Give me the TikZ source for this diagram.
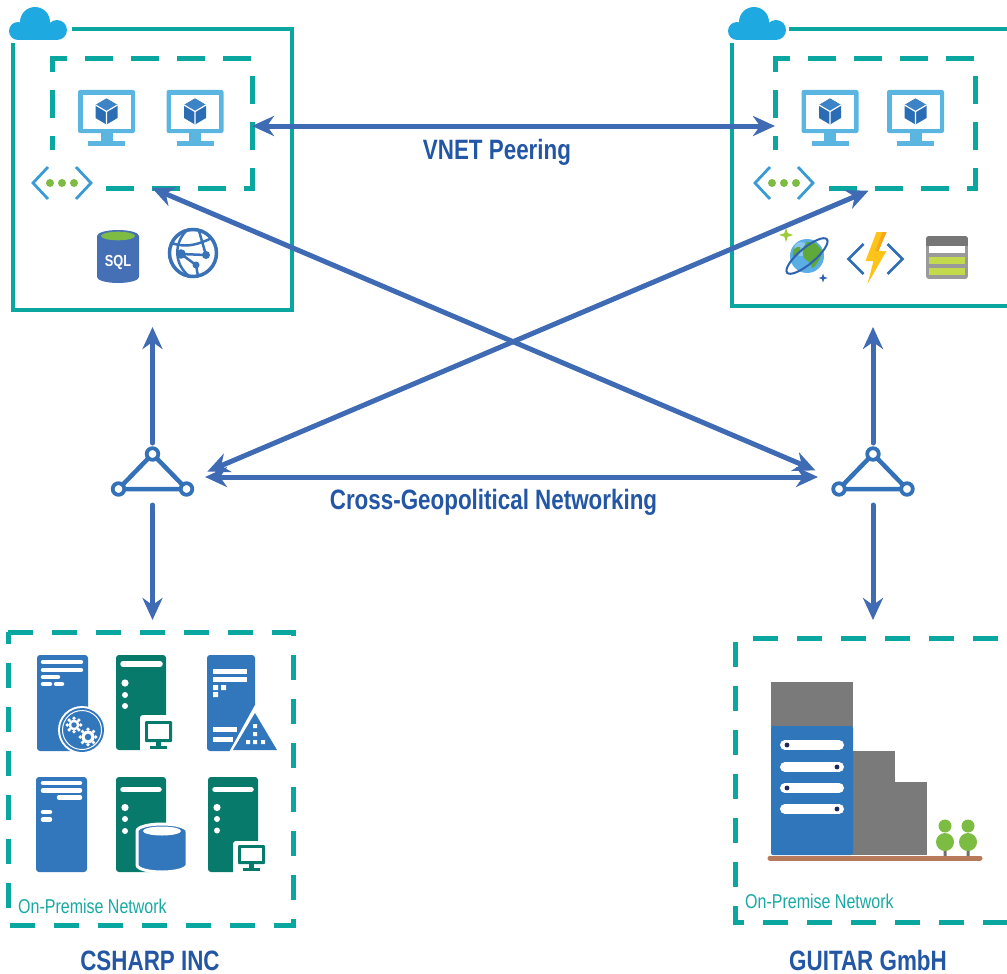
\documentclass[tikz,border=0pt]{standalone}
\usepackage{fontspec}
\setmainfont{Liberation Sans}
\newfontfamily\condfont[FakeStretch=0.8]{Liberation Sans}
\usetikzlibrary{arrows.meta}

\definecolor{boxteal}{HTML}{0AA6A0}
\definecolor{lantext}{HTML}{18A9A2}
\definecolor{linkblue}{HTML}{3F6AB4}
\definecolor{labelblue}{HTML}{2356A5}
\definecolor{hubblue}{HTML}{3371B8}
\definecolor{cloudblue}{HTML}{1FA9E1}
\definecolor{vmframe}{HTML}{5AB6E1}
\definecolor{cubedark}{HTML}{2A6DB5}
\definecolor{cubelight}{HTML}{3C84C6}
\definecolor{netblue}{HTML}{3A9BD5}
\definecolor{netgreen}{HTML}{7DBB42}
\definecolor{sqlblue}{HTML}{4670B6}
\definecolor{sqlgreen}{HTML}{7DBB42}
\definecolor{webblue}{HTML}{3A72B8}
\definecolor{globeblue}{HTML}{5AAEE4}
\definecolor{globegreen}{HTML}{5FA83A}
\definecolor{orbitblue}{HTML}{2D62B0}
\definecolor{sparkgreen}{HTML}{9CCB3B}
\definecolor{boltyellow}{HTML}{FCC419}
\definecolor{boltorange}{HTML}{F4A81C}
\definecolor{funcblue}{HTML}{2F6EB5}
\definecolor{tablegray}{HTML}{9A9A9A}
\definecolor{tabledark}{HTML}{767676}
\definecolor{tablegreen}{HTML}{C3DA4C}
\definecolor{srvblue}{HTML}{3276BC}
\definecolor{srvgreen}{HTML}{077A6B}
\definecolor{bldgray}{HTML}{7A7A7A}
\definecolor{bldblue}{HTML}{2F76BA}
\definecolor{slotdot}{HTML}{1F2A5C}
\definecolor{ground}{HTML}{B77B5B}
\definecolor{leaf}{HTML}{7DBC42}
\definecolor{trunk}{HTML}{707070}

\tikzset{
  cloudicon/.pic={
    \fill[cloudblue] (-20,3) circle (9) (-3,-6) circle (15) (19,2) circle (10);
    \fill[cloudblue] (-20,0) rectangle (19,12);
  },
  vmicon/.pic={
    \fill[vmframe, rounded corners=2pt] (-28.5,-21.5) rectangle (28.5,21.5);
    \fill[white] (-24,-17) rectangle (24,17);
    \fill[vmframe] (-6,21) rectangle (6,30);
    \fill[vmframe] (-18.5,29.5) rectangle (18.5,34);
    \fill[cubedark] (0,-13) -- (11,-6.5) -- (11,6.5) -- (0,13) -- (-11,6.5) -- (-11,-6.5) -- cycle;
    \fill[cubelight] (0,-13) -- (11,-6.5) -- (0,0) -- (-11,-6.5) -- cycle;
    \draw[white, line width=1.2pt] (-11,-6.5) -- (0,0) -- (11,-6.5) (0,0) -- (0,13);
  },
  neticon/.pic={
    \draw[netblue, line width=2.8pt] (-14,-16) -- (-29,0) -- (-14,16);
    \draw[netblue, line width=2.8pt] (14,-16) -- (29,0) -- (14,16);
    \fill[netgreen] (-12,0) circle (4) (0,0) circle (4) (12,0) circle (4);
  },
  sqlicon/.pic={
    \fill[sqlblue] (-21,-21) -- (-21,20) arc[start angle=180, end angle=0, x radius=21, y radius=6] -- (21,-21) -- cycle;
    \fill[sqlblue] (0,-21) ellipse [x radius=21, y radius=6];
    \fill[sqlgreen] (0,-21) ellipse [x radius=17, y radius=4.3];
    \node[text=white, font=\condfont\bfseries\fontsize{16}{16}\selectfont, inner sep=0pt] (sqlText) at (0,5) {SQL};
  },
  webicon/.pic={
    \draw[webblue, line width=3.5pt] (0,0) circle (23.5);
    \draw[webblue, line width=2.5pt] (-7,-22) .. controls (-20,-8) and (-18,12) .. (-4,23);
    \draw[webblue, line width=2.5pt] (-21,-10) .. controls (-6,-4) and (8,-10) .. (19,-15);
    \draw[webblue, line width=2.5pt] (3,12) -- (-12,1) -- (13,2) .. controls (10,-10) .. (6,-22);
    \draw[webblue, line width=2.5pt] (3,12) -- (5,23);
    \fill[webblue] (-12,1) circle (4.8) (13,2) circle (4) (3,12) circle (3.5);
  },
  sparkle/.pic={
    \fill (0,-#1) -- (0.25*#1,-0.25*#1) -- (#1,0) -- (0.25*#1,0.25*#1) -- (0,#1)
          -- (-0.25*#1,0.25*#1) -- (-#1,0) -- (-0.25*#1,-0.25*#1) -- cycle;
  },
  cosmosicon/.pic={
    \fill[globeblue] (0,0) circle (17);
    \fill[white, opacity=0.3] (-6,-7) circle (7);
    \fill[globegreen] plot[smooth cycle] coordinates {(0,-14) (9,-12) (15,-4) (12,4) (6,12) (2,6) (-3,2) (-4,-6)};
    \fill[globegreen] plot[smooth cycle] coordinates {(-13,-7) (-7,-9) (-8,-2) (-14,0)};
    \draw[orbitblue, line width=2pt, rotate=40] (0,0) ellipse [x radius=26, y radius=8];
    \pic[sparkgreen] at (-21,-21) {sparkle=7};
    \pic[orbitblue] at (16,22) {sparkle=4.5};
  },
  funcicon/.pic={
    \draw[funcblue, line width=2.8pt] (-12,-15) -- (-27,0) -- (-12,15);
    \draw[funcblue, line width=2.8pt] (12,-15) -- (27,0) -- (12,15);
    \fill[boltyellow] (1,-27) -- (11,-27) -- (3,-8) -- (11,-8) -- (-8,25) -- (-2,2) -- (-10,2) -- cycle;
    \fill[boltorange] (7,-27) -- (11,-27) -- (3,-8) -- (0,-8) -- cycle;
  },
  tableicon/.pic={
    \begin{scope}
      \clip[rounded corners=3pt] (-21,-21.5) rectangle (21,21.5);
      \fill[tablegray] (-21,-21.5) rectangle (21,21.5);
      \fill[tabledark] (-21,-21.5) rectangle (21,-12);
    \end{scope}
    \fill[white] (-18,-11.5) rectangle (18,-4.5);
    \fill[tablegreen] (-18,-0.5) rectangle (18,6.5);
    \fill[tablegreen] (-18,10.5) rectangle (18,17.5);
  },
  hubicon/.pic={
    \draw[hubblue, line width=4.5pt] (0,-23) -- (-34,12) -- (34,12) -- cycle;
    \filldraw[hubblue, fill=white, line width=3.8pt] (0,-23) circle (5.8) (-34,12) circle (5.8) (34,12) circle (5.8);
  },
  gear/.pic={
    \fill[white] (0,0) circle (#1);
    \foreach \a in {0,45,...,315} \fill[white] (\a:#1+1.3) circle (1.9);
    \fill[srvblue] (0,0) circle (0.5*#1);
  },
}

\begin{document}
\begin{tikzpicture}[x=1pt, y=-1pt,
  solidbox/.style={draw=boxteal, line width=4pt},
  vnetbox/.style={draw=boxteal, line width=5pt, dash pattern=on 28pt off 18pt},
  lanbox/.style={draw=boxteal, line width=5pt, dash pattern=on 25pt off 19pt},
  link/.style={draw=linkblue, line width=5pt, >={Stealth[length=22pt,width=20pt,inset=7pt]}},
  frame/.style={inner sep=0pt, outer sep=0pt, draw=none},
  title/.style={text=labelblue, font=\condfont\bfseries\fontsize{28}{30}\selectfont, inner sep=0pt, anchor=base},
  lanlabel/.style={text=lantext, font=\condfont\fontsize{20}{22}\selectfont, inner sep=0pt, anchor=base west},
]
\useasboundingbox (0,0) rectangle (1007,974);

% ---------- cloud region A ----------
\node[frame, minimum width=279pt, minimum height=281pt] (azA) at (152.5,169.5) {};
\node[frame, minimum width=200pt, minimum height=129pt] (vnetA) at (152,123.5) {};
\draw[solidbox] ([xshift=59pt]azA.north west) -- (azA.north east) -- (azA.south east) -- (azA.south west) -- ([yshift=-14pt]azA.north west);
\draw[vnetbox] ([xshift=54pt]vnetA.south west) -- (vnetA.south east) -- (vnetA.north east) -- (vnetA.north west) -- ([yshift=-91pt]vnetA.north west);
\pic at (38,28) {cloudicon};
\pic at (106.5,111.5) {vmicon};
\pic at (195,111.5) {vmicon};
\pic at (62,183) {neticon};
\pic at (118,257) {sqlicon};
\pic at (193,253) {webicon};

% ---------- cloud region B ----------
\node[frame, minimum width=290pt, minimum height=277pt] (azB) at (877,167.5) {};
\node[frame, minimum width=200pt, minimum height=129pt] (vnetB) at (875,123.5) {};
\draw[solidbox] ([xshift=57pt]azB.north west) -- (azB.north east);
\draw[solidbox] ([yshift=-14pt]azB.north west) -- (azB.south west) -- (azB.south east);
\draw[vnetbox] ([xshift=54pt]vnetB.south west) -- (vnetB.south east) -- (vnetB.north east) -- (vnetB.north west) -- ([yshift=-91pt]vnetB.north west);
\pic at (757,28) {cloudicon};
\pic at (830,111.5) {vmicon};
\pic at (915.5,111.5) {vmicon};
\pic at (784,183) {neticon};
\pic at (807,256) {cosmosicon};
\pic at (875.5,259) {funcicon};
\pic at (947,257.5) {tableicon};

% ---------- gateways ----------
\node[frame, minimum width=84pt, minimum height=56pt] (hubA) at (152.5,477) {};
\node[frame, minimum width=84pt, minimum height=56pt] (hubB) at (873,477) {};
\pic at (hubA) {hubicon};
\pic at (hubB) {hubicon};

% ---------- on-premise region A ----------
\node[frame, minimum width=285pt, minimum height=293pt] (premA) at (150.5,778.5) {};
\draw[lanbox] (premA.north west) -- (premA.north east) -- (premA.south east) -- (premA.south west) -- cycle;
% blue server with gears
\fill[srvblue, rounded corners=3pt] (37,655) rectangle (88,751);
\draw[white, line width=4.5pt, line cap=round] (43,662) -- (81,662) (43,670) -- (81,670) (43,677) -- (58,677) (43,684) -- (50,684) (56,684) -- (62,684);
\fill[white] (82,730) circle (24);
\fill[srvblue] (82,730) circle (22);
\draw[white, line width=1pt] (82,730) circle (19.5);
\pic at (74,725) {gear=5.5};
\pic at (88,737) {gear=6.5};
% green server with monitor
\fill[srvgreen, rounded corners=3pt] (116,655) rectangle (166,750);
\draw[white, line width=5.5pt, line cap=round] (123,664) -- (160,664);
\fill[white] (125,683) circle (3.6) (125,695) circle (3) (125,706) circle (3);
\fill[white, rounded corners=3pt] (140,715) rectangle (176,754);
\fill[srvgreen, rounded corners=1pt] (145,721) rectangle (172,742);
\fill[white] (148,724) rectangle (169,739);
\fill[srvgreen] (156,742) rectangle (161,746);
\fill[srvgreen] (150,746) rectangle (167,749);
% blue document with warning sign
\fill[srvblue, rounded corners=3pt] (207,655) rectangle (255,751);
\draw[white, line width=5pt] (213,671.5) -- (247,671.5) (213,679.5) -- (247,679.5);
\fill[white] (213,685) rectangle (218,690) (221,685) rectangle (226,690) (213,692) rectangle (218,697);
\draw[white, line width=4.5pt] (213,729.5) -- (237,729.5) (213,739.5) -- (233,739.5);
\fill[white] (255,705) -- (228,754) -- (282,754) -- cycle;
\fill[srvblue] (255,713) -- (233,750) -- (277,750) -- cycle;
\fill[white] (253,724) rectangle (257,728) (253,732) rectangle (257,736) (246,740) rectangle (250,744) (253,740) rectangle (257,744) (261,740) rectangle (265,744);
% blue server
\fill[srvblue, rounded corners=3pt] (36,777) rectangle (87,872);
\draw[white, line width=4.5pt, line cap=round] (43,783) -- (80,783) (43,790.5) -- (80,790.5) (59,797.5) -- (80,797.5) (43,812) -- (50,812) (43,819.5) -- (50,819.5);
% green server with database
\fill[srvgreen, rounded corners=3pt] (116,777) rectangle (166,872);
\draw[white, line width=5.5pt, line cap=round] (123,789.5) -- (159,789.5);
\fill[white] (125,807.5) circle (3.6) (125,819) circle (3) (125,831) circle (3);
\filldraw[fill=srvblue, draw=white, line width=3pt] (137,831) -- (137,865) arc[start angle=180, end angle=0, x radius=25, y radius=7] -- (187,831) arc[start angle=0, end angle=-180, x radius=25, y radius=7] -- cycle;
\fill[white] (162,831) ellipse [x radius=19, y radius=4.5];
% green server with monitor
\fill[srvgreen, rounded corners=3pt] (208,777) rectangle (258,872);
\draw[white, line width=5.5pt, line cap=round] (215,789.5) -- (251,789.5);
\fill[white] (217,807.5) circle (3.6) (217,819) circle (3) (217,830.5) circle (3);
\fill[white, rounded corners=3pt] (233,841) rectangle (269,876);
\fill[srvgreen, rounded corners=1pt] (238,845) rectangle (265,864);
\fill[white] (241,848) rectangle (262,861);
\fill[srvgreen] (249,864) rectangle (254,868);
\fill[srvgreen] (243,868) rectangle (260,871);
\node[lanlabel] (lanA) at (18,913) {On-Premise Network};

% ---------- on-premise region B ----------
\node[frame, minimum width=290pt, minimum height=284pt] (premB) at (880,780) {};
\draw[lanbox] ([xshift=18pt]premB.north west) -- (premB.north east);
\draw[lanbox] ([yshift=-4pt]premB.north west) -- (premB.south west) -- (premB.south east);
% office building
\fill[bldgray] (771,682) rectangle (853,727);
\fill[bldgray] (852,751) rectangle (895,855);
\fill[bldgray] (894,782) rectangle (927,855);
\fill[bldblue, rounded corners=2pt] (771,726) rectangle (853,855);
\foreach \yy in {745,767,788,809}
  \draw[white, line width=10pt, line cap=round] (785,\yy) -- (839,\yy);
\fill[slotdot] (787,745) circle (2.4) (837,767) circle (2.4) (787,788) circle (2.4) (837,809) circle (2.4);
\fill[trunk] (943.5,840) rectangle (946.5,856) (966.5,840) rectangle (969.5,856);
\fill[leaf] (945,826) circle (6.5) (945,842) circle (9) (968,826) circle (6.5) (968,842) circle (9);
\draw[ground, line width=5pt, line cap=round] (770,858) -- (980,858);
\node[lanlabel] (lanB) at (745,908) {On-Premise Network};

% ---------- connections ----------
\draw[link, <->] ([yshift=-2.5pt]vnetA.east) -- ([yshift=-2.5pt]vnetB.west);
\draw[link, <->, shorten >=17pt] (vnetA.south) -- (hubB.west);
\draw[link, <->, shorten <=14pt, shorten >=7pt] (hubA.east) -- (vnetB.south);
\draw[link, <->, shorten <=10.5pt, shorten >=13pt] (hubA.east) -- (hubB.west);
\draw[link, ->, line cap=round, shorten <=6pt, shorten >=17pt] (hubA.north) -- (hubA.north |- azA.south);
\draw[link, ->, line cap=round, shorten >=12pt] (hubA.south) -- (hubA.south |- premA.north);
\draw[link, ->, line cap=round, shorten <=6pt, shorten >=21pt] (hubB.north) -- (hubB.north |- azB.south);
\draw[link, ->, line cap=round, shorten >=18pt] (hubB.south) -- (hubB.south |- premB.north);

% ---------- labels ----------
\node[title] (vnetLabel) at (497,159) {VNET Peering};
\node[title] (crossLabel) at (493.5,509) {Cross-Geopolitical Networking};
\node[title] (csharpLabel) at (150,970) {CSHARP INC};
\node[title] (guitarLabel) at (868,970) {GUITAR GmbH};
\end{tikzpicture}
\end{document}
